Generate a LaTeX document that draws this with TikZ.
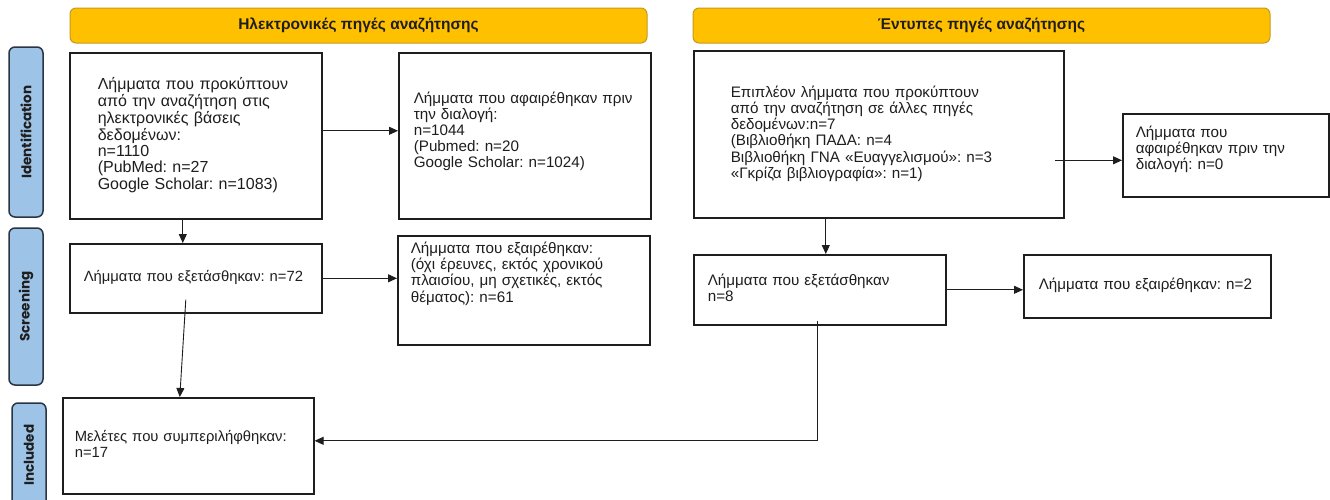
\documentclass[tikz,border=0pt]{standalone}
\usepackage{fontspec}
\setmainfont{Liberation Sans}
\newfontfamily\sidefont{Poppins}
\usetikzlibrary{arrows.meta,calc}
\definecolor{hdrfill}{HTML}{FFC000}
\definecolor{hdrdraw}{HTML}{C49A1E}
\definecolor{sidefill}{HTML}{9DC3E6}
\definecolor{sidedraw}{HTML}{2B3445}
\definecolor{ink}{HTML}{1E1E1E}
\newcommand\bodysize{\fontsize{15.2}{16}\selectfont}
\newcommand\boxlines[1]{\begin{tabular}{@{}l@{}}#1\end{tabular}}
\begin{document}
\frenchspacing
\begin{tikzpicture}[x=1pt,y=-1pt,
  box/.style={draw=ink, line width=1.6pt, fill=white, anchor=north west,
    inner ysep=0pt, align=left, font=\bodysize, text=ink},
  bigtext/.style={font=\fontsize{16}{16}\selectfont},
  smalltext/.style={font=\fontsize{14.8}{16}\selectfont},
  hdr/.style={draw=hdrdraw, fill=hdrfill, rounded corners=6pt, line width=1pt,
    minimum width=577pt, minimum height=35pt, inner sep=0pt,
    font=\bfseries\fontsize{15.5}{16}\selectfont, text=ink},
  side/.style={draw=sidedraw, fill=sidefill, rounded corners=6pt, line width=1.5pt,
    rotate=90, minimum height=34pt, inner sep=0pt,
    font=\sidefont\bfseries\fontsize{13.5}{15}\selectfont, text=ink},
  conn/.style={draw=ink, line width=0.9pt, -{Triangle[length=9pt,width=8pt]}}
]
\useasboundingbox (0,0) rectangle (1330,499);
\fill[white] (0,0) rectangle (1330,499);

% headers
\node[hdr] (h1) at (358.5,25.5) {Ηλεκτρονικές πηγές αναζήτησης};
\node[hdr] (h2) at (981.5,25.5) {Έντυπες πηγές αναζήτησης};

% side labels
\node[side, minimum width=170pt] (s1) at (26,132) {Identification};
\node[side, minimum width=157pt] (s2) at (26,306.5) {Screening};
\node[side, minimum width=104pt] (s3) at (29,455) {Included};

% boxes
\node[box, bigtext, minimum width=252pt, minimum height=166pt, text width=196pt, inner xsep=28pt] (A) at (69,52)
  {\boxlines{Λήμματα που προκύπτουν\\από την αναζήτηση στις\\ηλεκτρονικές βάσεις\\δεδομένων:\\n=1110\\(PubMed: n=27\\Google Scholar: n=1083)}};
\node[box, minimum width=252pt, minimum height=166pt, text width=222pt, inner xsep=15pt] (B) at (398,52)
  {\boxlines{Λήμματα που αφαιρέθηκαν πριν\\την διαλογή:\\n=1044\\(Pubmed: n=20\\Google Scholar: n=1024)\\[8pt]}};
\node[box, minimum width=370pt, minimum height=167pt, text width=296pt, inner xsep=37pt] (C) at (693,50)
  {\boxlines{Επιπλέον λήμματα που προκύπτουν\\από την αναζήτηση σε άλλες πηγές\\δεδομένων:n=7\\(Βιβλιοθήκη ΠΑΔΑ: n=4\\Βιβλιοθήκη ΓΝΑ «Ευαγγελισμού»: n=3\\«Γκρίζα βιβλιογραφία»: n=1)}};
\node[box, minimum width=206pt, minimum height=83pt, text width=180pt, inner xsep=13pt] (D) at (1122,113)
  {\boxlines{Λήμματα που\\αφαιρέθηκαν πριν την\\διαλογή: n=0\\[10pt]}};
\node[box, smalltext, minimum width=252pt, minimum height=69pt, text width=224pt, inner xsep=14pt] (E) at (69,243)
  {\boxlines{Λήμματα που εξετάσθηκαν: n=72}};
\node[box, minimum width=252pt, minimum height=109pt, text width=226pt, inner xsep=13pt] (F) at (397,235)
  {\boxlines{Λήμματα που εξαιρέθηκαν:\\(όχι έρευνες, εκτός χρονικού\\πλαισίου, μη σχετικές, εκτός\\θέματος): n=61\\[32pt]}};
\node[box, smalltext, minimum width=251pt, minimum height=96pt, text width=227pt, inner xsep=12pt] (G) at (62,397)
  {\boxlines{Μελέτες που συμπεριλήφθηκαν:\\n=17}};
\node[box, minimum width=252pt, minimum height=70pt, text width=224pt, inner xsep=14pt] (H) at (693,254)
  {\boxlines{Λήμματα που εξετάσθηκαν\\n=8}};
\node[box, minimum width=247pt, minimum height=63pt, text width=217pt, inner xsep=15pt] (I) at (1023,254)
  {\boxlines{Λήμματα που εξαιρέθηκαν: n=2}};

% connectors
\draw[conn] ([yshift=5pt]A.east) -- ([yshift=5pt]B.west);
\draw[conn] ([xshift=-13pt]A.south) -- ([xshift=-13pt]E.north);
\draw[conn] (E.east) -- (E.east -| F.west);
\draw[conn] ([xshift=-10pt,yshift=14pt]E.south) -- ([xshift=-8.5pt]G.north);
\coordinate (dIn) at ([yshift=-5pt]D.west);
\draw[conn] ([xshift=-10pt]C.east |- dIn) -- (dIn);
\coordinate (hIn) at ([xshift=6pt]H.north);
\draw[conn] (C.south -| hIn) -- (hIn);
\draw[conn] (H.east) -- (H.east -| I.west);
\draw[conn] ([xshift=-2pt,yshift=5pt]H.south) |- ([yshift=5pt]G.east);
\end{tikzpicture}
\end{document}
